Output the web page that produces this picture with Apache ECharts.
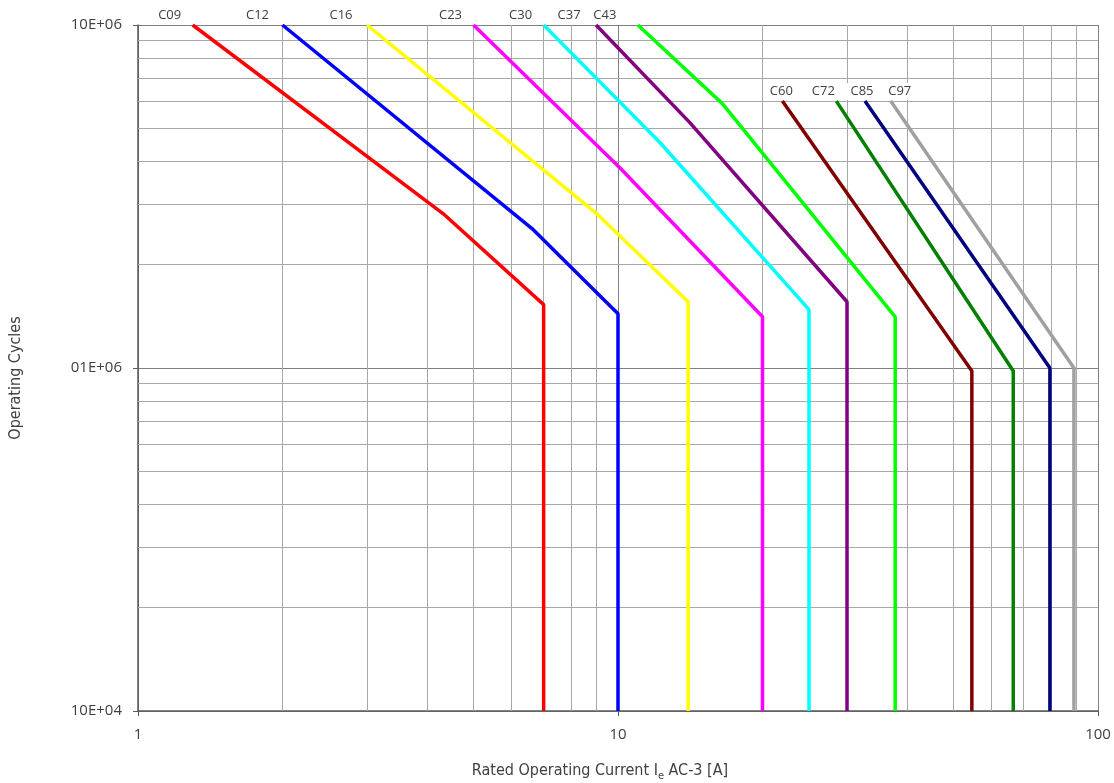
<!DOCTYPE html>
<html><head><meta charset="utf-8">
<script src="https://cdn.jsdelivr.net/npm/echarts@6/dist/echarts.min.js"></script>
<style>html,body{margin:0;padding:0;background:#fff}#c{width:1114px;height:783px}</style>
</head><body><div id="c"></div>
<script>
// ---- data ----
const names = ['C09','C12','C16','C23','C30','C37','C43','C60','C72','C85','C97'];
const C09 = [[1.3,1e7],[4.32,2.82e6],[7.0,1.53e6],[7.0,1e5]];
const C12 = [[2.0,1e7],[6.66,2.53e6],[10.0,1.44e6],[10.0,1e5]];
const C16 = [[3.0,1e7],[9.0,2.83e6],[14.0,1.56e6],[14.0,1e5]];
const C23 = [[5.0,1e7],[10.1,3.83e6],[20.0,1.41e6],[20.0,1e5]];
const C30 = [[7.0,1e7],[12.2,4.56e6],[25.0,1.48e6],[25.0,1e5]];
const C37 = [[9.0,1e7],[14.1,5.2e6],[30.0,1.56e6],[30.0,1e5]];
const C43 = [[11.0,1e7],[16.5,5.9e6],[37.8,1.41e6],[37.8,1e5]];
const C60 = [[22.0,6e6],[54.6,0.98e6],[54.6,1e5]];
const C72 = [[28.5,6e6],[66.6,0.98e6],[66.6,1e5]];
const C85 = [[32.7,6e6],[79.4,1.0e6],[79.4,1e5]];
const C97 = [[37.0,6e6],[89.1,1.0e6],[89.1,1e5]];
const xTickLabels = ['1','10','100'];
const yTickLabels = ['10E+04','01E+06','10E+06'];
const xMinorGrid = [2,3,4,5,6,7,8,9,20,30,40,50,60,70,80,90];
const yMinorGrid = [2e5,3e5,4e5,5e5,6e5,7e5,8e5,9e5,2e6,3e6,4e6,5e6,6e6,7e6,8e6,9e6];

// ---- styles ----
const seriesData = [C09,C12,C16,C23,C30,C37,C43,C60,C72,C85,C97];
const colors = ['#ff0000','#0000ff','#ffff00','#ff00ff','#00ffff','#800080','#00ff00','#800000','#008000','#000080','#a0a0a0'];
const labelDx = [-23,-25,-26,-23,-23,-27,-33,-1,-13,-3,9];
const labelBg = [false,false,false,false,false,false,false,true,true,true,true];
const txt = '#404040';
const tickFont = 'Open Sans';
const titleFont = 'DejaVu Sans Condensed';

const series = seriesData.map((d, i) => ({
  type: 'line',
  name: names[i],
  z: 3,
  symbol: 'circle',
  symbolSize: 0,
  showSymbol: true,
  animation: false,
  lineStyle: { color: colors[i], width: 3.5 },
  itemStyle: { color: colors[i] },
  label: { show: false },
  data: d.map((p, j) => j === 0 ? {
    value: p,
    label: {
      show: true, position: 'top', distance: labelBg[i] ? 1 : 3,
      offset: [labelDx[i], 0],
      formatter: names[i],
      fontFamily: tickFont, fontSize: 13, color: txt,
      backgroundColor: labelBg[i] ? '#ffffff' : 'transparent',
      padding: labelBg[i] ? [2, 5] : 0
    }
  } : p)
}));

series.unshift({
  type: 'line',
  name: 'grid',
  z: 1,
  data: [],
  silent: true,
  animation: false,
  markLine: {
    z: 1,
    silent: true,
    animation: false,
    symbol: ['none','none'],
    label: { show: false },
    lineStyle: { color: '#a8a8a8', width: 1, type: 'solid' },
    emphasis: { disabled: true },
    data: [
      ...xMinorGrid.map(v => ({ xAxis: v })),
      ...yMinorGrid.map(v => ({ yAxis: v }))
    ]
  }
});

const chart = echarts.init(document.getElementById('c'), null, { renderer: 'canvas' });
chart.setOption({
  backgroundColor: '#ffffff',
  animation: false,
  grid: { left: 138, right: 16, top: 25, bottom: 72, containLabel: false, outerBoundsMode: 'none' },
  xAxis: {
    type: 'log', logBase: 10, min: 1, max: 100,
    name: '{a|Rated Operating Current I}{s|e}{a| AC-3 [A]}',
    nameLocation: 'middle', nameGap: 48,
    nameTextStyle: {
      padding: [0, 36, 0, 0],
      rich: {
        a: { fontFamily: titleFont, fontSize: 16, color: txt },
        s: { fontFamily: titleFont, fontSize: 11, color: txt, padding: [12, 0, 0, 0] }
      }
    },
    axisLine: { show: true, lineStyle: { color: '#595959', width: 1.5 } },
    axisTick: { show: true, length: 5, lineStyle: { color: '#595959' } },
    axisLabel: {
      margin: 16, fontFamily: tickFont, fontSize: 15, color: txt,
      formatter: v => xTickLabels[Math.round(Math.log10(v))]
    },
    splitLine: { show: true, lineStyle: { color: '#808080', width: 1 } }
  },
  yAxis: {
    type: 'log', logBase: 10, min: 1e5, max: 1e7,
    name: 'Operating Cycles',
    nameLocation: 'middle', nameGap: 114,
    nameTextStyle: { fontFamily: titleFont, fontSize: 16, color: txt, padding: [0, 20, 0, 0] },
    axisLine: { show: true, lineStyle: { color: '#595959', width: 1.5 } },
    axisTick: { show: true, length: 5, lineStyle: { color: '#595959' } },
    axisLabel: {
      margin: 16, fontFamily: tickFont, fontSize: 15, color: txt,
      formatter: v => yTickLabels[Math.round(Math.log10(v)) - 5]
    },
    splitLine: { show: true, lineStyle: { color: '#808080', width: 1 } }
  },
  series: series
});
</script>
</body></html>
